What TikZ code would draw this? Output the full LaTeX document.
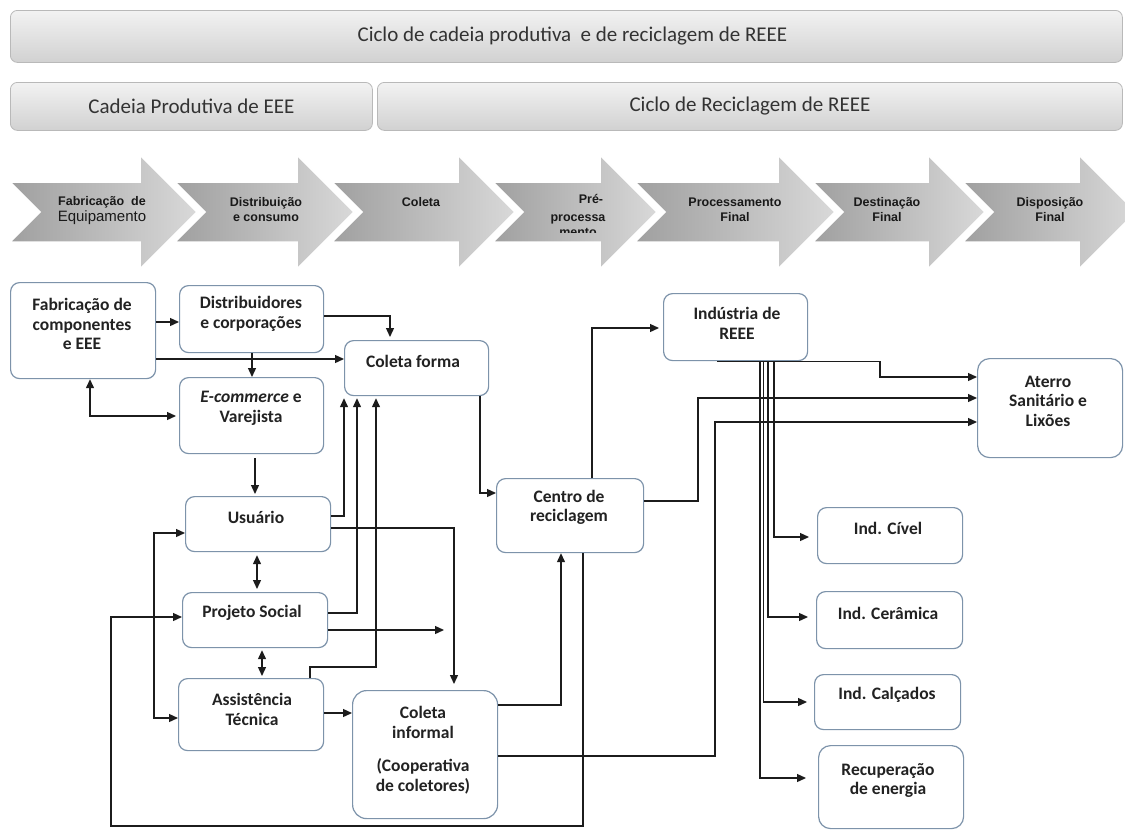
\documentclass[tikz,border=0pt]{standalone}
\usepackage{fontspec}
\setmainfont{Carlito}
\newfontfamily\arialf{Liberation Sans}
\usetikzlibrary{arrows.meta}
\definecolor{boxc}{HTML}{7D93AA}
\definecolor{linec}{HTML}{1C1C1C}
\definecolor{txtc}{HTML}{222222}
\newcommand\mychev[2]{%
  \path[chev] (#1,182) -- (#2,182) -- (#2,155) -- ({#2+57},212) -- (#2,269) -- (#2,242) -- (#1,242) -- ({#1+30},212) -- cycle;}
\begin{document}
\begin{tikzpicture}[x=1pt,y=-1pt,
  box/.style={draw=boxc, line width=1.2pt, rounded corners=9pt, fill=white, inner sep=0pt, anchor=north west},
  txt/.style={font=\fontsize{17.5}{19.5}\selectfont\bfseries, text=txtc, align=center, inner sep=0pt},
  conn/.style={draw=linec, line width=1.3pt, -{Triangle[length=9pt,width=8pt]}},
  dbl/.style={draw=linec, line width=1.3pt, {Triangle[length=9pt,width=8pt]}-{Triangle[length=9pt,width=8pt]}},
  banner/.style={draw=gray!55, line width=0.8pt, rounded corners=7pt, top color=gray!10, bottom color=gray!36, inner sep=0pt, anchor=north west, font=\fontsize{21}{24}\selectfont, text=black!80},
  chev/.style={draw=white, line width=1.5pt, left color=gray!75, right color=gray!30},
  ctxt/.style={font=\arialf\bfseries\fontsize{12.5}{15}\selectfont, text=black!90, align=center, inner sep=0pt}
]
\useasboundingbox (0,0) rectangle (1125,830);
\fill[white] (0,0) rectangle (1125,830);

% banners
\node[banner, minimum width=1112pt, minimum height=52pt] (b1) at (10,10) {\hspace*{12pt}Ciclo de cadeia produtiva\ \ e de reciclagem de REEE};
\node[banner, minimum width=362pt, minimum height=48pt] (b2a) at (10,82) {Cadeia Produtiva de EEE};
\node[banner, minimum width=745pt, minimum height=48pt] (b2b) at (377,82) {Ciclo de Reciclagem de REEE};

% chevrons
\mychev{10}{140}
\mychev{175}{297}
\mychev{332}{458}
\mychev{493}{600}
\mychev{635}{778}
\mychev{813}{928}
\mychev{963}{1079}
\node[ctxt] (c1a) at (102,202) {Fabricação\ \ de};
\node[ctxt, font=\arialf\fontsize{15}{15}\selectfont] (c1b) at (102,218) {Equipamento};
\node[ctxt] (c2) at (266,209.5) {Distribuição\\e consumo};
\node[ctxt] (c3) at (421,202) {Coleta};
\node[ctxt] (c4a) at (591,199) {Pré-};
\begin{scope}
\clip (530,150) rectangle (640,232);
\node[ctxt] (c4b) at (578,226) {processa\\mento};
\end{scope}
\node[ctxt] (c5) at (735,209.5) {Processamento\\Final};
\node[ctxt] (c6) at (887,209.5) {Destinação\\Final};
\node[ctxt] (c7) at (1050,209.5) {Disposição\\Final};

% boxes
\node[box, minimum width=145pt, minimum height=96pt] (fab) at (10,282) {};
\node[box, minimum width=144pt, minimum height=67pt] (dist) at (179,285) {};
\node[box, minimum width=144pt, minimum height=55pt] (cform) at (344,340) {};
\node[box, minimum width=144pt, minimum height=76pt] (ecom) at (179,377) {};
\node[box, minimum width=145pt, minimum height=55pt] (usu) at (185,496) {};
\node[box, minimum width=145pt, minimum height=55pt] (proj) at (182,592) {};
\node[box, minimum width=145pt, minimum height=72pt] (assist) at (178,678) {};
\node[box, rounded corners=14pt, minimum width=145pt, minimum height=128pt] (cinf) at (352,690) {};
\node[box, minimum width=144pt, minimum height=67pt] (ind) at (663,293) {};
\node[box, minimum width=147pt, minimum height=74pt] (centro) at (496,478) {};
\node[box, rounded corners=12pt, minimum width=145pt, minimum height=99pt] (aterro) at (977,358) {};
\node[box, minimum width=145pt, minimum height=56pt] (civel) at (817,507) {};
\node[box, minimum width=146pt, minimum height=57pt] (ceram) at (816,591) {};
\node[box, minimum width=146pt, minimum height=55pt] (calc) at (814,674) {};
\node[box, rounded corners=12pt, minimum width=145pt, minimum height=83pt] (recup) at (818,745) {};

% box texts
\node[txt] (fabt) at (82,324) {Fabricação de\\componentes\\e EEE};
\node[txt] (distt) at (251,314) {Distribuidores\\e corporações};
\node[txt] (cformt) at (413,361) {Coleta forma};
\node[txt] (ecomt) at (251,408.5) {\textit{E-commerce} e\\Varejista};
\node[txt] (usut) at (256,517) {Usuário};
\node[txt] (projt) at (252,613) {Projeto Social};
\node[txt] (assistt) at (252,709.5) {Assistência\\Técnica};
\node[txt] (cinft) at (423,750) {Coleta\\informal\\[14pt](Cooperativa\\de coletores)};
\node[txt] (indt) at (737,323.5) {Indústria de\\REEE};
\node[txt] (centrot) at (569,507.5) {Centro de\\reciclagem};
\node[txt] (atert) at (1048,401) {Aterro\\Sanitário e\\Lixões};
\node[txt] (civelt) at (888,528) {Ind. Cível};
\node[txt] (ceramt) at (888,613) {Ind. Cerâmica};
\node[txt] (calct) at (887,695) {Ind. Calçados};
\node[txt] (recupt) at (888,780.5) {Recuperação\\de energia};

% connectors
\draw[conn] (fab.east |- 0,322) -- (dist.west |- 0,322);
\draw[conn, shorten >=3pt] (dist.east |- 0,316) -| (390,0 |- cform.north);
\draw[conn] (fab.east |- 0,359) -- (cform.west |- 0,359);
\draw[conn] (dist.south -| 252,0) -- (ecom.north -| 252,0);
\draw[dbl, shorten >=3pt] (fab.south -| 90,0) |- (ecom.west |- 0,416);
\draw[conn, shorten <=4pt, shorten >=2pt] (ecom.south -| 255,0) -- (usu.north -| 255,0);
\draw[conn, shorten >=2pt] (usu.east |- 0,516) -| (344,0 |- cform.south);
\draw[conn, shorten >=2pt] (proj.east |- 0,613) -| (357,0 |- cform.south);
\draw[conn, shorten >=2pt] (assist.north -| 310,0) |- (376,667) -- (376,0 |- cform.south);
\draw[conn, shorten >=6pt] (usu.east |- 0,528) -| (454,0 |- cinf.north);
\coordinate (psfree) at (444,630);
\draw[conn] (proj.east |- 0,630) -- (psfree);
\draw[dbl, shorten <=3pt, shorten >=3pt] (usu.south -| 257,0) -- (proj.north -| 257,0);
\draw[dbl, shorten <=2pt, shorten >=2pt] (proj.south -| 262,0) -- (assist.north -| 262,0);
\draw[conn] (assist.east |- 0,713) -- (cinf.west |- 0,713);
\draw[dbl] (usu.west |- 0,533) -| (154,625) |- (assist.west |- 0,718);
\draw[conn] (centro.south -| 583,0) |- (111,826) |- (proj.west |- 0,617);
\draw[conn] (cinf.east |- 0,705) -| (561,0 |- centro.south);
\draw[conn] (cinf.east |- 0,756) -| (715,422) -- (aterro.west |- 0,422);
\draw[conn] (centro.east |- 0,501) -| (698,398) -- (aterro.west |- 0,398);
\draw[conn, shorten >=4pt] (centro.north -| 592,0) |- (ind.west |- 0,328);
\draw[conn] (cform.south -| 480,0) |- (centro.west |- 0,493);
\draw[conn] (ind.south -| 717,0) -| (880,377) -- (aterro.west |- 0,377);
\draw[conn, shorten >=8pt] (ind.south -| 774,0) |- (civel.west |- 0,537);
\draw[conn, shorten >=8pt] (ind.south -| 768,0) |- (ceram.west |- 0,617);
\draw[conn, shorten >=7pt] (ind.south -| 763.5,0) |- (calc.west |- 0,702);
\draw[conn, shorten >=12pt] (ind.south -| 760,0) |- (recup.west |- 0,778);
\end{tikzpicture}
\end{document}
